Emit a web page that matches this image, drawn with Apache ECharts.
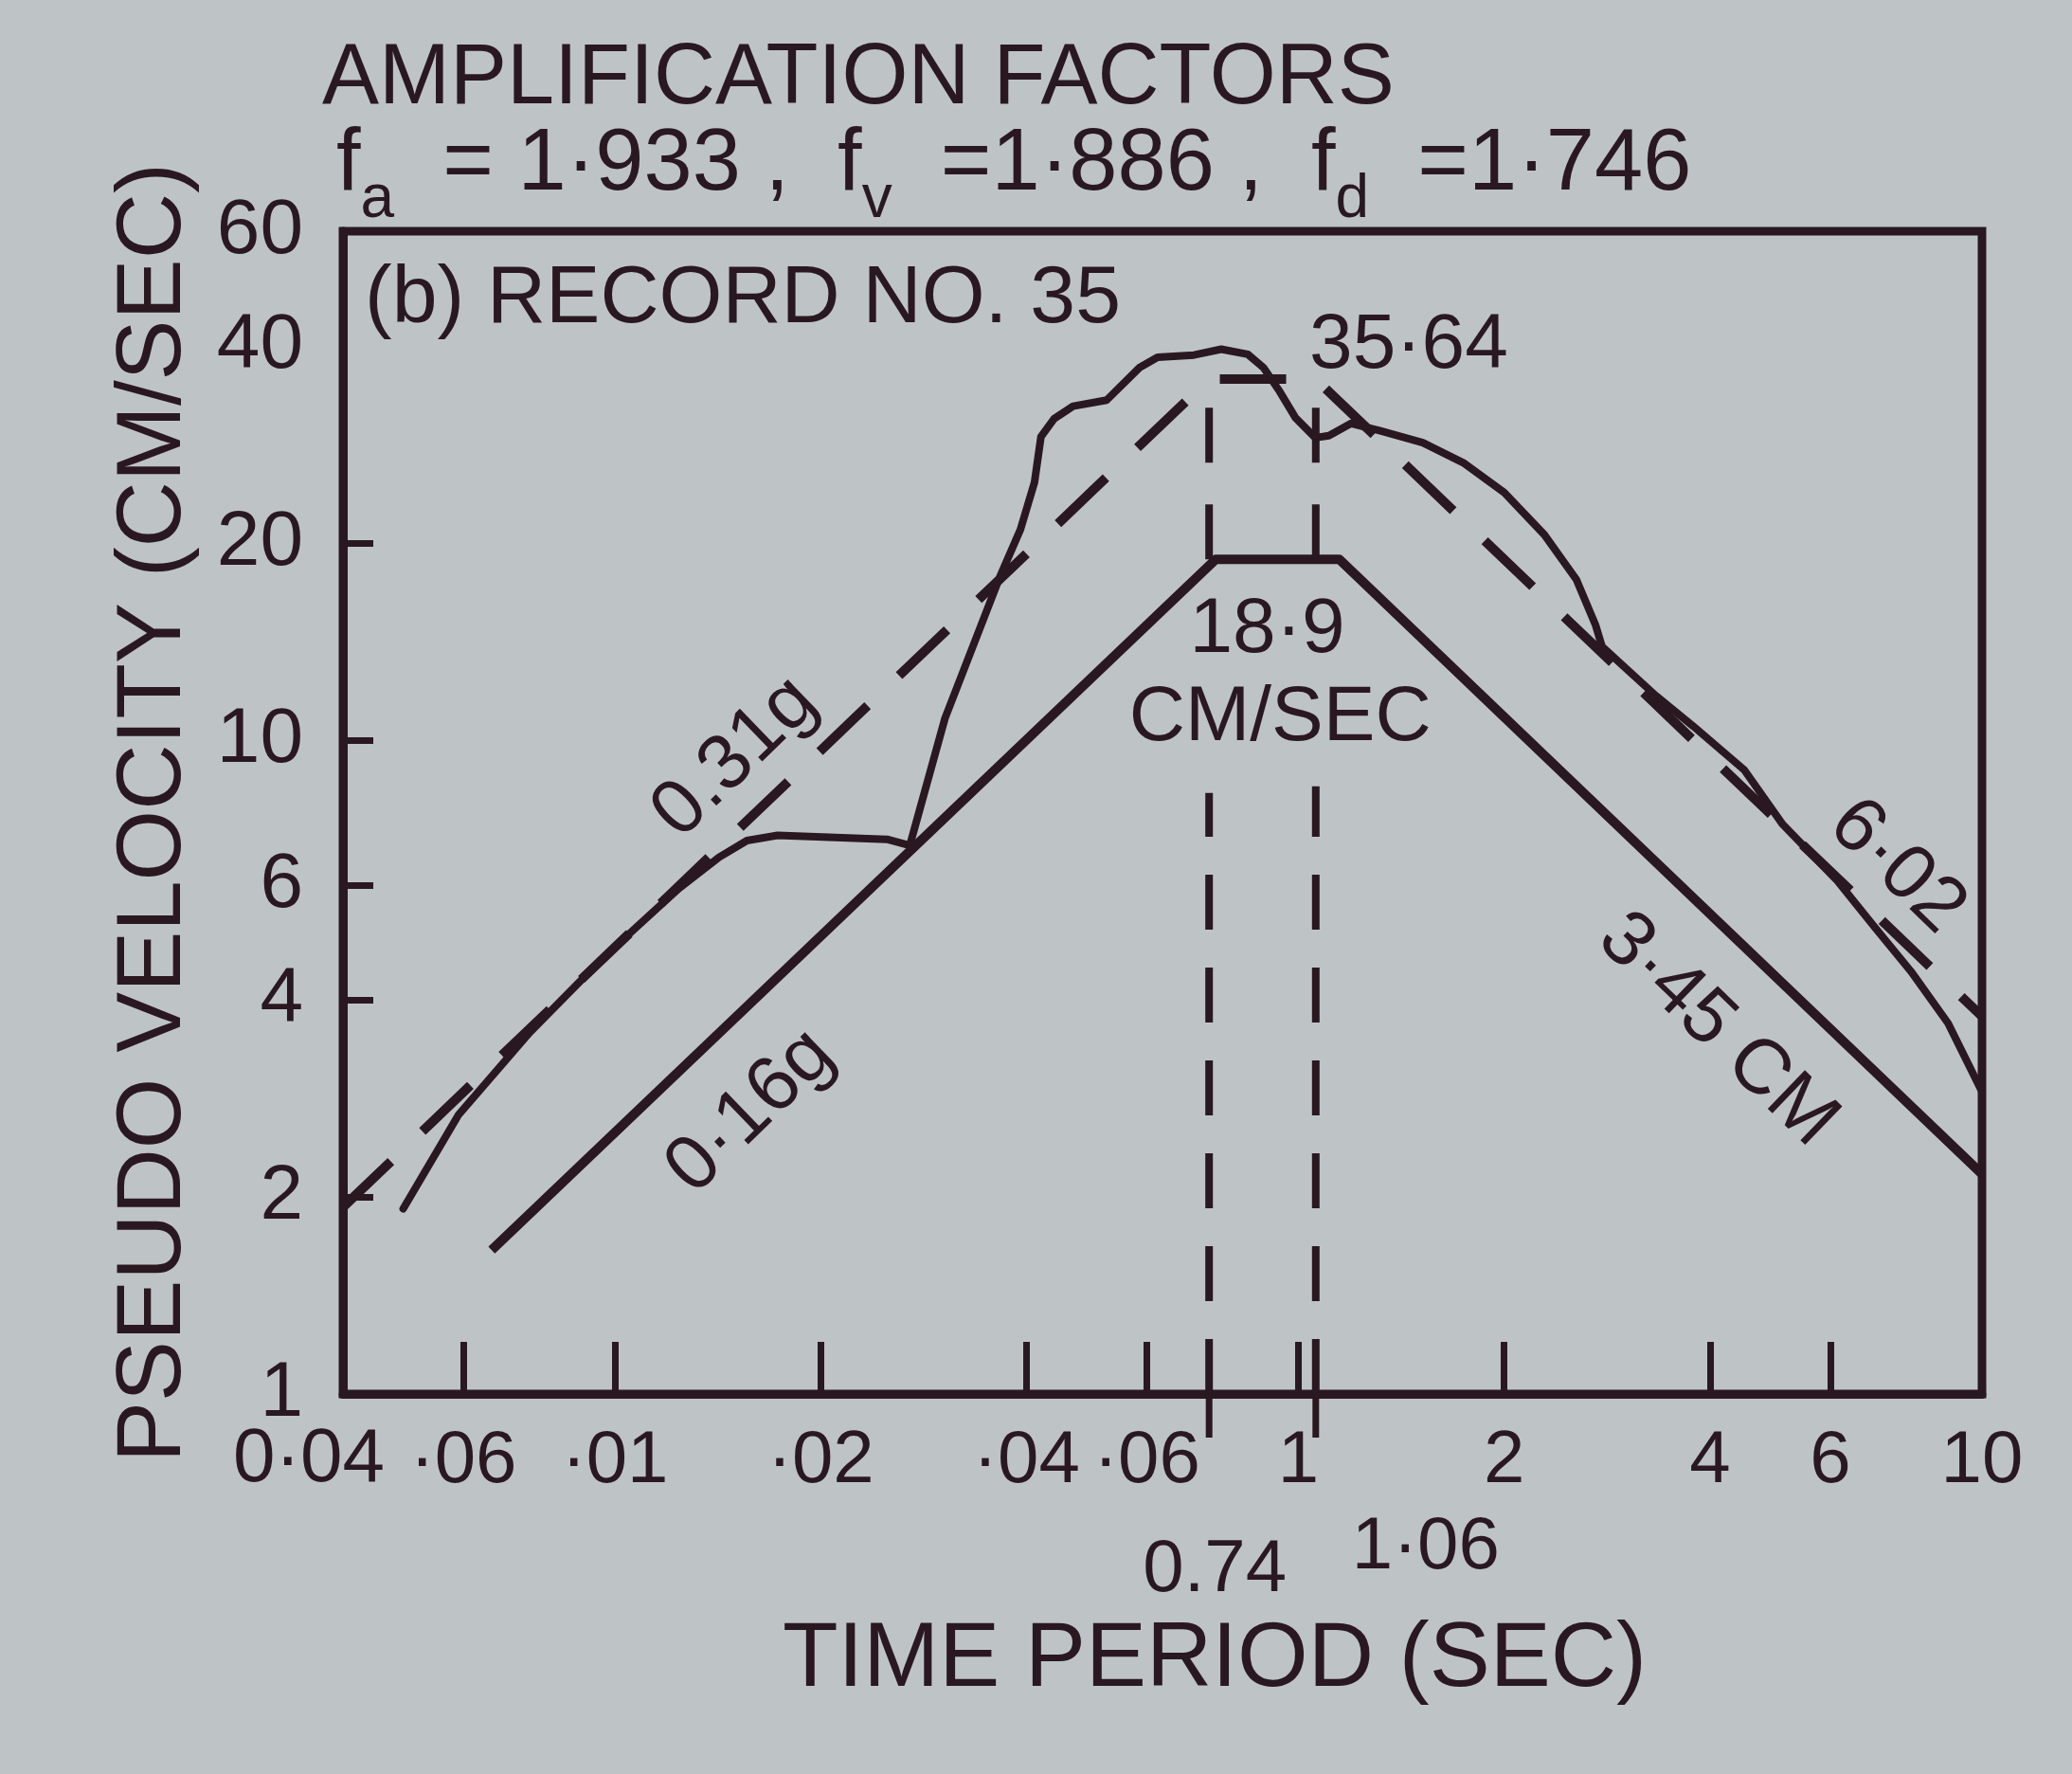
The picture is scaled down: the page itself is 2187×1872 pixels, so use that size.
<!DOCTYPE html>
<html>
<head>
<meta charset="utf-8">
<script src="https://cdn.jsdelivr.net/npm/echarts@6/dist/echarts.min.js"></script>
<style>
  html, body { margin: 0; padding: 0; background: #bec4c6; }
  #chart { width: 2187px; height: 1872px; }
</style>
</head>
<body>
<div id="chart"></div>
<script>
// ---------------- data ----------------
const xTickValues = [0.04, 0.06, 0.1, 0.2, 0.4, 0.6, 1, 2, 4, 6, 10];
const xTickLabels = ['0·04', '·06', '·01', '·02', '·04', '·06', '1', '2', '4', '6', '10'];
const xInnerTicks = [0.06, 0.1, 0.2, 0.4, 0.6, 1, 2, 4, 6];
const yTickValues = [1, 2, 4, 6, 10, 20, 40, 60];
const yTickLabels = ['1', '2', '4', '6', '10', '20', '40', '60'];
const yInnerTicks = [2, 4, 6, 10, 20];

// actual response spectrum of record no. 35 (solid, irregular)
const responsePeriod = [0.049, 0.059, 0.075, 0.097, 0.124, 0.142, 0.156, 0.173, 0.25, 0.27,
  0.304, 0.366, 0.392, 0.411, 0.42, 0.439, 0.468, 0.524, 0.585, 0.622,
  0.703, 0.771, 0.843, 0.889, 0.939, 0.99, 1.058, 1.108, 1.194, 1.318,
  1.52, 1.748, 2.0, 2.29, 2.55, 2.72, 2.78, 3.33, 3.78, 4.49,
  5.1, 6.12, 6.95, 7.87, 8.92, 10];
const responseVelocity = [1.92, 2.67, 3.57, 4.69, 5.93, 6.62, 7.02, 7.15, 7.05, 6.9,
  10.8, 17.8, 21.0, 24.8, 29.1, 31.0, 32.4, 33.1, 37.1, 38.5,
  38.8, 39.6, 38.9, 37.1, 34.1, 31.1, 29.0, 29.2, 30.5, 29.7,
  28.5, 26.5, 23.9, 20.6, 17.6, 15.0, 13.9, 11.7, 10.5, 9.0,
  7.45, 6.12, 5.19, 4.43, 3.69, 2.9];

// amplified (dashed) spectrum
const amplifiedPeriod = [0.04, 0.74, 1.06, 10];
const amplifiedVelocity = [1.93, 35.64, 35.64, 3.78];

// design (trapezoidal) spectrum
const designPeriod = [0.066, 0.757, 1.147, 10];
const designVelocity = [1.66, 18.9, 18.9, 2.17];

// corner periods marked with vertical dashed lines
const markedPeriods = [0.74, 1.06];
const markedPeriodLabels = ['0.74', '1·06'];
const markedLowerTop = [8.3, 8.5];
const markedUpperBottom = [18.9, 18.9];
const markedUpperTop = [35.64, 35.64];

// in-plot annotations
const noteText = ['0.31g', '0·16g', '35·64', '18·9', 'CM/SEC', '6·02', '3·45 CM'];
const notePeriod = [0.15, 0.158, 1.45, 0.9, 0.94, 7.5, 4.1];
const noteVelocity = [9.4, 2.7, 40, 14.7, 10.8, 6.4, 3.6];
const noteAngle = [44, 44, 0, 0, 0, -44, -44];

// ---------------- style ----------------
const INK = '#2a1820';
const BG = '#bec4c6';
const FONT = "'Liberation Sans', 'DejaVu Sans', sans-serif";

function zip(xs, ys) { return xs.map((x, i) => [x, ys[i]]); }
function lookup(values, labels) {
  return function (v) {
    let best = 0;
    for (let i = 1; i < values.length; i++) {
      if (Math.abs(Math.log(values[i]) - Math.log(v)) < Math.abs(Math.log(values[best]) - Math.log(v))) best = i;
    }
    return labels[best];
  };
}

const DASH = [70, 46];

const series = [
  {
    name: 'response', type: 'line', data: zip(responsePeriod, responseVelocity),
    showSymbol: false, symbol: 'none', smooth: false,
    lineStyle: { color: INK, width: 8, join: 'round', cap: 'round' }, z: 3
  },
  {
    name: 'amplified', type: 'line', data: zip(amplifiedPeriod, amplifiedVelocity),
    showSymbol: false, symbol: 'none',
    lineStyle: { color: INK, width: 10, type: DASH }, z: 2
  },
  {
    name: 'design', type: 'line', data: zip(designPeriod, designVelocity),
    showSymbol: false, symbol: 'none',
    lineStyle: { color: INK, width: 10, join: 'round' }, z: 3
  }
];

markedPeriods.forEach((t, i) => {
  series.push({
    type: 'line', symbol: 'none', showSymbol: false,
    data: [[t, 1], [t, markedLowerTop[i]]],
    lineStyle: { color: INK, width: 8, type: [58, 40] }
  });
  series.push({
    type: 'line', symbol: 'none', showSymbol: false,
    data: [[t, markedUpperBottom[i]], [t, markedUpperTop[i]]],
    lineStyle: { color: INK, width: 8, type: [58, 44] }
  });
});

// small marks below the axis at the corner periods
series.push({
  type: 'scatter', clip: false, silent: true,
  data: markedPeriods.map(t => [t, 1]),
  symbol: 'rect', symbolSize: [7, 46], symbolOffset: [0, 23],
  itemStyle: { color: INK, opacity: 1 }
});
// their labels
series.push({
  type: 'scatter', clip: false, silent: true, symbolSize: 0,
  itemStyle: { opacity: 1 },
  data: markedPeriods.map((t, i) => ({
    value: [t, 1],
    label: { formatter: markedPeriodLabels[i], offset: i === 0 ? [6, 186] : [116, 162] }
  })),
  label: { show: true, position: 'inside', color: INK, fontFamily: FONT, fontSize: 78 }
});
// first x tick label (kept off the axis so the next label is not auto-hidden)
series.push({
  type: 'scatter', clip: false, silent: true, symbolSize: 0,
  itemStyle: { opacity: 1 },
  data: [{ value: [xTickValues[0], 1], label: { formatter: xTickLabels[0] } }],
  label: { show: true, position: 'inside', offset: [-36, 70], color: INK, fontFamily: FONT, fontSize: 80 }
});
// annotations
series.push({
  type: 'scatter', clip: false, silent: true, symbolSize: 0,
  itemStyle: { opacity: 1 },
  data: noteText.map((s, i) => ({
    value: [notePeriod[i], noteVelocity[i]],
    label: { formatter: s, rotate: noteAngle[i] }
  })),
  label: { show: true, position: 'inside', color: INK, fontFamily: FONT, fontSize: 82 }
});

const option = {
  backgroundColor: BG,
  animation: false,
  textStyle: { fontFamily: FONT, color: INK },
  title: [
    {
      text: 'AMPLIFICATION FACTORS', left: 335, top: 34,
      textStyle: { fontFamily: FONT, fontSize: 90, fontWeight: 'normal', color: INK }
    },
    {
      text: '{t|f}{s|a}{t|  = 1·933 ,  f}{s|v}{t|  =1·886 ,  f}{s|d}{t|  =1·746}',
      left: 350, top: 124,
      textStyle: {
        fontFamily: FONT, color: INK, fontWeight: 'normal',
        rich: {
          t: { fontFamily: FONT, fontSize: 92, lineHeight: 92, verticalAlign: 'top', color: INK, fontWeight: 'normal' },
          s: { fontFamily: FONT, fontSize: 64, lineHeight: 64, padding: [50, 0, 0, 0], verticalAlign: 'top', color: INK, fontWeight: 'normal' }
        }
      }
    },
    {
      text: '(b) RECORD NO. 35', left: 380, top: 268,
      textStyle: { fontFamily: FONT, fontSize: 86, fontWeight: 'normal', color: INK }
    }
  ],
  grid: {
    left: 362, right: 95, top: 244, bottom: 401,
    show: true, borderColor: INK, borderWidth: 9, backgroundColor: 'transparent',
    outerBoundsMode: 'none'
  },
  xAxis: {
    type: 'log', logBase: 10, min: 0.04, max: 10,
    name: 'TIME PERIOD (SEC)', nameLocation: 'middle', nameGap: 234,
    nameTextStyle: { fontFamily: FONT, fontSize: 96, color: INK, padding: [0, 0, 0, 110] },
    axisLine: { show: true, lineStyle: { color: INK, width: 9 } },
    axisTick: { show: true, inside: true, length: 55, customValues: xInnerTicks, lineStyle: { color: INK, width: 7 } },
    minorTick: { show: false },
    splitLine: { show: false },
    axisLabel: {
      customValues: xTickValues.slice(1), formatter: lookup(xTickValues, xTickLabels),
      showMinLabel: true, showMaxLabel: true, hideOverlap: false,
      fontFamily: FONT, fontSize: 78, color: INK, margin: 32
    }
  },
  yAxis: {
    type: 'log', logBase: 10, min: 1, max: 60,
    name: 'PSEUDO VELOCITY (CM/SEC)', nameLocation: 'middle', nameGap: 150, nameRotate: 90,
    nameTextStyle: { fontFamily: FONT, fontSize: 96, color: INK },
    axisLine: { show: true, lineStyle: { color: INK, width: 9 } },
    axisTick: { show: true, inside: true, length: 32, customValues: yInnerTicks, lineStyle: { color: INK, width: 7 } },
    minorTick: { show: false },
    splitLine: { show: false },
    axisLabel: {
      customValues: yTickValues, formatter: lookup(yTickValues, yTickLabels),
      showMinLabel: true, showMaxLabel: true, hideOverlap: false,
      fontFamily: FONT, fontSize: 82, color: INK, margin: 42
    }
  },
  series: series
};

const chart = echarts.init(document.getElementById('chart'), null, { renderer: 'canvas' });
chart.setOption(option);
</script>
</body>
</html>
